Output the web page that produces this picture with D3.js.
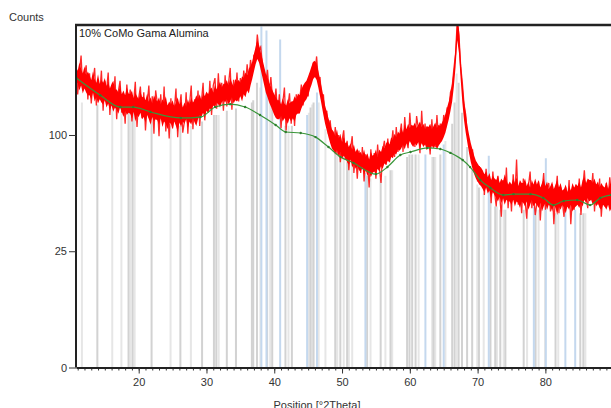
<!DOCTYPE html>
<html>
<head>
<meta charset="utf-8">
<script src="https://cdn.jsdelivr.net/npm/d3@7"></script>
<style>
  body { margin: 0; background: #fff; }
  svg { display: block; font-family: "Liberation Sans", Arial, sans-serif; }
  .axis text { font-size: 11px; fill: #333; }
</style>
</head>
<body>
<svg width="611" height="408"></svg>
<script>
// measured scan, 0.25 deg steps from 10.75: dense core (high/low) and the spiky trace
var scanStart = 10.75, scanStep = 0.25;
var coreHigh = [
  168, 163, 172, 165, 160, 168, 158, 162,
  158, 153, 162, 154, 150, 159, 149, 153,
  150, 155, 146, 151, 144, 149, 152, 143,
  143, 140, 147, 138, 142, 137, 145, 139,
  138, 142, 134, 140, 136, 133, 141, 135,
  136, 132, 139, 131, 135, 129, 137, 133,
  131, 135, 128, 133, 130, 136, 127, 131,
  128, 132, 126, 130, 135, 128, 131, 125,
  130, 126, 133, 128, 135, 130, 132, 137,
  133, 138, 132, 140, 136, 141, 138, 143,
  145, 140, 148, 143, 147, 151, 145, 149,
  149, 153, 147, 155, 150, 146, 154, 151,
  153, 150, 157, 155, 161, 158, 165, 168,
  173, 182, 190, 198, 192, 184, 176, 168,
  160, 156, 150, 146, 142, 138, 135, 132,
  132, 128, 134, 129, 127, 133, 129, 131,
  131, 136, 133, 139, 137, 143, 147, 150,
  152, 157, 162, 168, 173, 174, 171, 163,
  154, 145, 136, 127, 121, 115, 110, 105,
  103, 99, 105, 97, 101, 94, 99, 93,
  94, 90, 93, 88, 92, 86, 89, 85,
  86, 83, 88, 82, 85, 80, 86, 83,
  84, 88, 82, 88, 86, 91, 89, 93,
  95, 92, 98, 96, 101, 98, 103, 101,
  106, 102, 109, 105, 110, 106, 109, 108,
  111, 106, 109, 112, 107, 110, 105, 108,
  107, 110, 105, 108, 111, 106, 109, 108,
  111, 114, 119, 125, 131, 139, 150, 165,
  190, 225, 212, 177, 151, 132, 119, 108,
  100, 93, 88, 83, 79, 77, 75, 74,
  72, 69, 71, 67, 70, 65, 68, 66,
  65, 68, 63, 66, 64, 69, 65, 62,
  64, 62, 66, 63, 67, 61, 65, 63,
  63, 66, 61, 64, 60, 65, 62, 66,
  62, 65, 60, 63, 66, 61, 64, 59,
  61, 64, 59, 62, 65, 60, 63, 58,
  59, 62, 57, 61, 58, 63, 60, 62,
  61, 64, 60, 65, 67, 63, 66, 65,
  65, 63, 66, 62, 64, 60, 63, 61,
  60, 64, 59, 62, 63
];
var coreLow = [
  146, 150, 142, 147, 139, 144, 140, 137,
  137, 133, 140, 131, 135, 129, 133, 130,
  128, 132, 125, 129, 123, 127, 121, 125,
  123, 119, 125, 121, 116, 122, 118, 120,
  119, 115, 121, 112, 118, 116, 120, 114,
  116, 111, 118, 114, 109, 116, 112, 114,
  113, 109, 115, 107, 112, 110, 105, 111,
  110, 105, 112, 108, 103, 111, 107, 112,
  110, 114, 106, 112, 109, 115, 111, 108,
  114, 118, 116, 120, 115, 122, 120, 124,
  123, 127, 125, 130, 128, 125, 130, 132,
  130, 133, 128, 131, 135, 129, 132, 131,
  133, 136, 131, 138, 135, 142, 139, 147,
  154, 162, 170, 176, 172, 164, 156, 148,
  140, 135, 130, 126, 122, 118, 115, 114,
  114, 117, 112, 115, 113, 110, 115, 112,
  115, 112, 118, 120, 119, 124, 128, 131,
  133, 137, 143, 148, 154, 156, 153, 145,
  136, 127, 118, 110, 104, 98, 93, 89,
  87, 84, 88, 82, 86, 80, 83, 81,
  78, 76, 80, 74, 77, 73, 75, 72,
  71, 74, 69, 72, 68, 71, 67, 70,
  71, 69, 73, 71, 75, 73, 77, 76,
  79, 78, 82, 81, 85, 84, 88, 87,
  89, 92, 88, 93, 91, 95, 92, 90,
  93, 91, 94, 89, 93, 90, 92, 88,
  90, 87, 91, 89, 92, 88, 91, 93,
  95, 98, 102, 108, 114, 122, 131, 146,
  167, 198, 183, 154, 130, 113, 102, 93,
  85, 78, 73, 69, 66, 64, 62, 61,
  59, 57, 60, 56, 58, 54, 57, 55,
  53, 51, 54, 50, 53, 49, 52, 51,
  51, 49, 52, 48, 51, 50, 47, 51,
  50, 48, 51, 46, 49, 52, 48, 50,
  49, 47, 50, 45, 48, 50, 46, 49,
  48, 45, 49, 47, 43, 48, 46, 49,
  47, 44, 48, 46, 49, 45, 47, 48,
  49, 47, 50, 48, 52, 50, 53, 51,
  52, 49, 51, 48, 50, 47, 46, 49,
  48, 46, 49, 45, 47
];
var counts = [
  172, 138, 161, 180, 142, 158, 169, 133,
  160, 129, 151, 166, 127, 149, 138, 163,
  122, 152, 141, 161, 118, 146, 130, 157,
  114, 141, 152, 120, 137, 110, 148, 126,
  143, 112, 130, 151, 107, 134, 146, 115,
  140, 104, 128, 147, 111, 136, 101, 142,
  129, 99, 138, 112, 146, 103, 127, 97,
  134, 106, 122, 144, 98, 124, 138, 102,
  112, 140, 101, 128, 147, 105, 133, 116,
  142, 108, 130, 150, 113, 139, 120, 152,
  118, 147, 155, 124, 160, 128, 150, 122,
  158, 126, 149, 166, 123, 153, 134, 161,
  131, 155, 140, 163, 147, 170, 151, 175,
  160, 181, 176, 205, 186, 190, 170, 162,
  148, 164, 140, 156, 133, 128, 144, 118,
  138, 106, 129, 145, 104, 126, 139, 110,
  131, 108, 138, 119, 133, 148, 127, 145,
  150, 136, 158, 154, 172, 160, 179, 152,
  156, 132, 138, 114, 122, 101, 113, 96,
  88, 107, 84, 100, 78, 95, 104, 80,
  95, 72, 88, 99, 70, 86, 66, 87,
  70, 90, 64, 84, 79, 60, 88, 71,
  85, 66, 92, 74, 63, 87, 95, 76,
  97, 78, 89, 104, 82, 107, 86, 99,
  110, 86, 116, 95, 89, 120, 97, 108,
  90, 117, 106, 85, 122, 94, 110, 88,
  104, 84, 114, 93, 90, 118, 96, 110,
  100, 118, 106, 124, 122, 140, 146, 165,
  182, 222, 204, 168, 150, 128, 118, 100,
  95, 82, 88, 72, 78, 64, 75, 62,
  70, 55, 73, 60, 66, 50, 71, 57,
  48, 68, 56, 42, 65, 53, 74, 47,
  62, 45, 69, 54, 80, 49, 60, 44,
  66, 52, 41, 61, 71, 47, 58, 43,
  50, 64, 40, 57, 70, 46, 59, 63,
  45, 62, 38, 55, 68, 44, 60, 51,
  42, 60, 48, 65, 38, 55, 46, 62,
  50, 66, 43, 59, 72, 54, 47, 65,
  56, 70, 45, 62, 49, 66, 42, 57,
  48, 63, 52, 67, 55
];

// background line
var bgPos = [10.8, 14.35, 17.3, 19.2, 21.75, 26.2, 29.1, 31.3, 33.5, 35.7, 37.9, 40.2, 41.7, 43.9, 46.1,
  48.0, 49.8, 51.7, 55.0, 56.7, 58.6, 60.1, 62.6, 64.5, 66.0, 67.8, 68.9, 70.4, 71.9, 73.8,
  75.3, 77.8, 79.7, 81.2, 82.7, 84.7, 86.6, 88.1, 89.7];
var bgCounts = [155, 137, 125.5, 125.5, 120.8, 115.2, 116, 125.5, 128.3, 125.5, 117.9, 108.8, 102.6, 101.7, 98.2,
  89.9, 81.9, 77.4, 69.2, 74.4, 83.5, 85.9, 89.2, 88.3, 85.2, 79.6, 74.3, 65, 59.6, 55,
  55.6, 55.6, 53.1, 48.8, 51.3, 51.9, 48.8, 53.2, 55];

// reference pattern sticks
var grayPos = [13.9, 18.5, 19.1, 21.9, 26.15, 29.35, 31.1, 31.45, 33.0, 34.35, 36.7, 36.9, 37.45, 38.95, 39.7,
  41.65, 42.6, 45.35, 45.8, 49.0, 49.75, 50.75, 53.7, 55.7, 57.15, 59.6, 59.95, 60.35, 60.85, 63.5,
  64.5, 66.25, 66.6, 67.2, 67.7, 68.45, 69.2, 70.2, 71.9, 72.6, 73.35, 74.1, 76.8, 78.55, 81.5, 85.15, 85.6];
var grayHeight = [128, 126, 126, 112, 108, 112, 118, 118, 122, 124, 130, 132, 150, 140, 125,
  108, 108, 125, 130, 92, 85, 78, 68, 66, 72, 82, 84, 84, 84, 82,
  84, 110, 130, 150, 120, 90, 72, 60, 52, 48, 46, 46, 46, 46, 44, 44, 44];
var lightPos = [11.62, 16.1, 17.45, 18.78, 19.4, 24.7, 27.7, 31.8, 37.95, 39.4, 42.1, 45.1, 45.6, 46.55, 47.55,
  49.3, 50.25, 51.0, 51.5, 54.2, 56.4, 57.4, 61.3, 63.3, 63.75, 65.25, 66.9, 69.95, 70.9, 72.85,
  73.85, 77.3, 79.0, 79.95, 81.9, 85.9];
var lightHeight = [130, 126, 126, 126, 124, 108, 108, 118, 145, 130, 108, 120, 128, 130, 105,
  88, 82, 76, 76, 66, 68, 72, 84, 82, 82, 95, 160, 62, 56, 48,
  46, 46, 46, 46, 44, 44];
var bluePos = [38.1, 38.85, 40.87, 44.85, 46.3, 53.45, 62.3, 65.0, 71.65, 78.3, 80.07, 82.95, 84.4];
var blueHeight = [215, 210, 199, 118, 140, 70, 84, 92, 83, 48, 81, 46, 46];

var xMajor = [20, 30, 40, 50, 60, 70, 80];
var yTicks = [0, 25, 100];

var svg = d3.select("svg");
var plotLeft = 76, plotTop = 25, plotBottom = 367.5;

var x = d3.scaleLinear().domain([10.75, 92]).range([plotLeft, plotLeft + 81.25 * 6.778]);
var y = d3.scaleSqrt().domain([0, 217]).range([plotBottom, plotTop]);

svg.append("clipPath").attr("id", "plot")
  .append("rect").attr("x", plotLeft).attr("y", plotTop).attr("width", 611 - plotLeft).attr("height", plotBottom - plotTop);

var g = svg.append("g").attr("clip-path", "url(#plot)");

function sticks(pos, hts, colour, w) {
  g.append("g").selectAll("line")
    .data(pos)
    .enter().append("line")
      .attr("x1", function(d){ return x(d); })
      .attr("x2", function(d){ return x(d); })
      .attr("y1", plotBottom)
      .attr("y2", function(d, i){ return y(hts[i]); })
      .attr("stroke", colour)
      .attr("stroke-width", w);
}
sticks(lightPos, lightHeight, "#e6e6e6", 2);
sticks(grayPos, grayHeight, "#d2d2d2", 2);
sticks(bluePos, blueHeight, "#c4d8ee", 2);

// spiky trace under the dense core
var trace = counts.map(function(c, i){ return [scanStart + i * scanStep, c]; });
g.append("path")
  .datum(trace)
  .attr("fill", "none")
  .attr("stroke", "#ff1010")
  .attr("stroke-width", 1.3)
  .attr("stroke-opacity", 0.9)
  .attr("d", d3.line().x(function(d){ return x(d[0]); }).y(function(d){ return y(d[1]); }));

var core = coreHigh.map(function(h, i){ return {t: scanStart + i * scanStep, hi: h, lo: coreLow[i]}; });
g.append("path")
  .datum(core)
  .attr("fill", "#ff0000")
  .attr("d", d3.area()
    .x(function(d){ return x(d.t); })
    .y0(function(d){ return y(d.lo); })
    .y1(function(d){ return y(d.hi); }));

var bg = bgPos.map(function(p, i){ return [p, bgCounts[i]]; });
g.append("path")
  .datum(bg)
  .attr("fill", "none")
  .attr("stroke", "#3a963a")
  .attr("stroke-width", 1.2)
  .attr("d", d3.line().curve(d3.curveMonotoneX).x(function(d){ return x(d[0]); }).y(function(d){ return y(d[1]); }));
g.append("g").selectAll("circle")
  .data(bg)
  .enter().append("circle")
    .attr("cx", function(d){ return x(d[0]); })
    .attr("cy", function(d){ return y(d[1]); })
    .attr("r", 1.2)
    .attr("fill", "#2f7f2f");

// axes
var minor = d3.range(11, 92);
svg.append("g")
  .attr("transform", "translate(0," + plotBottom + ")")
  .call(d3.axisBottom(x).tickValues(minor).tickSize(3).tickSizeOuter(0).tickFormat(""))
  .call(function(s){ s.select(".domain").remove(); s.selectAll("line").attr("stroke", "#333"); });

var xAxis = svg.append("g")
  .attr("class", "axis")
  .attr("transform", "translate(0," + plotBottom + ")")
  .call(d3.axisBottom(x).tickValues(xMajor).tickSize(6).tickSizeOuter(0).tickPadding(5));
xAxis.select(".domain").attr("stroke", "#222").attr("stroke-width", 2);
xAxis.selectAll("line").attr("stroke", "#333");

var yAxis = svg.append("g")
  .attr("class", "axis")
  .attr("transform", "translate(" + plotLeft + ",0)")
  .call(d3.axisLeft(y).tickValues(yTicks).tickSize(7).tickSizeOuter(0).tickPadding(2));
yAxis.select(".domain").attr("stroke", "#222").attr("stroke-width", 2)
  .attr("d", "M0," + plotBottom + "V" + plotTop);
yAxis.selectAll("line").attr("stroke", "#333");

svg.append("line")
  .attr("x1", plotLeft - 1).attr("x2", 611)
  .attr("y1", plotTop).attr("y2", plotTop)
  .attr("stroke", "#222").attr("stroke-width", 2.5);

svg.append("text")
  .attr("x", 9).attr("y", 21)
  .attr("font-size", 11).attr("fill", "#333")
  .text("Counts");

svg.append("text")
  .attr("x", 79).attr("y", 37)
  .attr("font-size", 11).attr("fill", "#222")
  .text("10% CoMo Gama Alumina");

svg.append("text")
  .attr("x", 317).attr("y", 409)
  .attr("text-anchor", "middle")
  .attr("font-size", 11).attr("fill", "#333")
  .text("Position [°2Theta]");
</script>
</body>
</html>
